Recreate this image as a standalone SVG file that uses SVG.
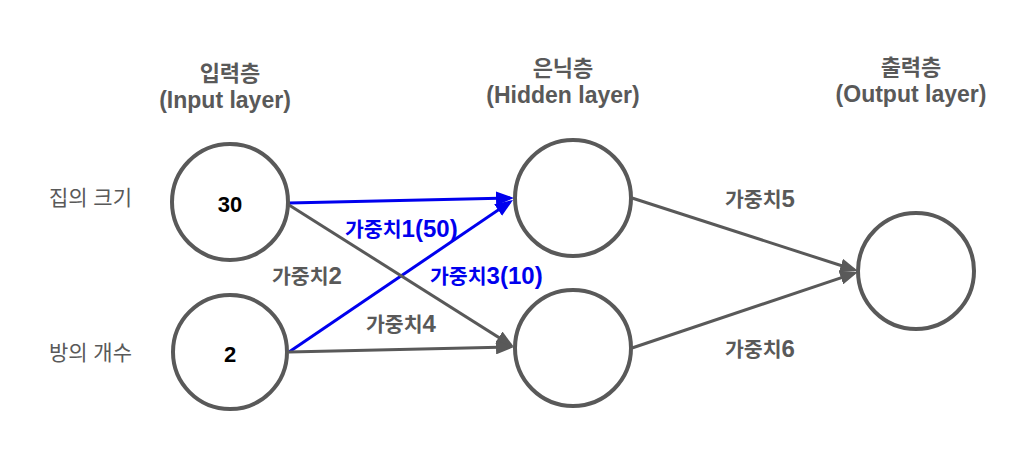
<svg xmlns="http://www.w3.org/2000/svg" width="1030" height="468" viewBox="0 0 1030 468">
<style>
text { font-family: "Liberation Sans", "Noto Sans CJK KR", sans-serif; }
.title { font-size: 22px; font-weight: bold; fill: #595959; text-anchor: middle; }
.lat { font-size: 23px; }
.side { font-size: 21px; fill: #595959; text-anchor: end; }
.val { font-size: 22px; font-weight: bold; fill: #000; text-anchor: middle; }
.node { fill: #fff; stroke: #595959; stroke-width: 4; }
.w { font-size: 20.5px; font-weight: bold; fill: #595959; }
.wb { font-size: 20.5px; font-weight: bold; fill: #0000ee; }
.n { font-size: 24px; }
.eg { stroke: #595959; stroke-width: 3; fill: none; marker-end: url(#ag); }
.eb { stroke: #0000ee; stroke-width: 3; fill: none; marker-end: url(#ab); }
</style>
<defs>
<marker id="ag" viewBox="0 0 18 14" refX="14" refY="7" markerWidth="18" markerHeight="14" markerUnits="userSpaceOnUse" orient="auto"><path d="M0,0 L18,7 L0,14 z" fill="#595959"/></marker>
<marker id="ab" viewBox="0 0 18 14" refX="14" refY="7" markerWidth="18" markerHeight="14" markerUnits="userSpaceOnUse" orient="auto"><path d="M0,0 L18,7 L0,14 z" fill="#0000ee"/></marker>
</defs>
<rect width="1030" height="468" fill="#fff"/>
<g id="headers">
<text class="title" x="230" y="81">입력층</text>
<text class="title lat" x="225" y="108">(Input layer)</text>
<text class="title" x="563" y="76">은닉층</text>
<text class="title lat" x="563" y="103">(Hidden layer)</text>
<text class="title" x="911" y="75">출력층</text>
<text class="title lat" x="911" y="102">(Output layer)</text>
</g>
<g id="side-labels">
<text class="side" x="132" y="205">집의 크기</text>
<text class="side" x="132" y="360">방의 개수</text>
</g>
<g id="connectors">
<line class="eb" x1="289" y1="203" x2="510" y2="198.1"/>
<line class="eb" x1="289" y1="352" x2="509.7" y2="202.2"/>
<line class="eg" x1="289" y1="205" x2="510.6" y2="344.9"/>
<line class="eg" x1="289" y1="352" x2="510" y2="347.1"/>
<line class="eg" x1="632" y1="198" x2="854.2" y2="269.8"/>
<line class="eg" x1="632" y1="348" x2="854.2" y2="273.3"/>
</g>
<g id="in1"><circle class="node" cx="230" cy="202" r="58"/><text class="val" x="230" y="212">30</text></g>
<g id="in2"><circle class="node" cx="230" cy="352" r="57"/><text class="val" x="230" y="362">2</text></g>
<g id="h1"><circle class="node" cx="573" cy="198" r="58"/></g>
<g id="h2"><circle class="node" cx="573" cy="348" r="58"/></g>
<g id="out"><circle class="node" cx="916" cy="271" r="58"/></g>
<g id="weight-labels">
<text class="wb" x="345" y="237">가중치<tspan class="n">1(50)</tspan></text>
<text class="w" x="272" y="284">가중치<tspan class="n">2</tspan></text>
<text class="wb" x="430" y="284">가중치<tspan class="n">3(10)</tspan></text>
<text class="w" x="366" y="332">가중치<tspan class="n">4</tspan></text>
<text class="w" x="725" y="207">가중치<tspan class="n">5</tspan></text>
<text class="w" x="725" y="357">가중치<tspan class="n">6</tspan></text>
</g>
</svg>
